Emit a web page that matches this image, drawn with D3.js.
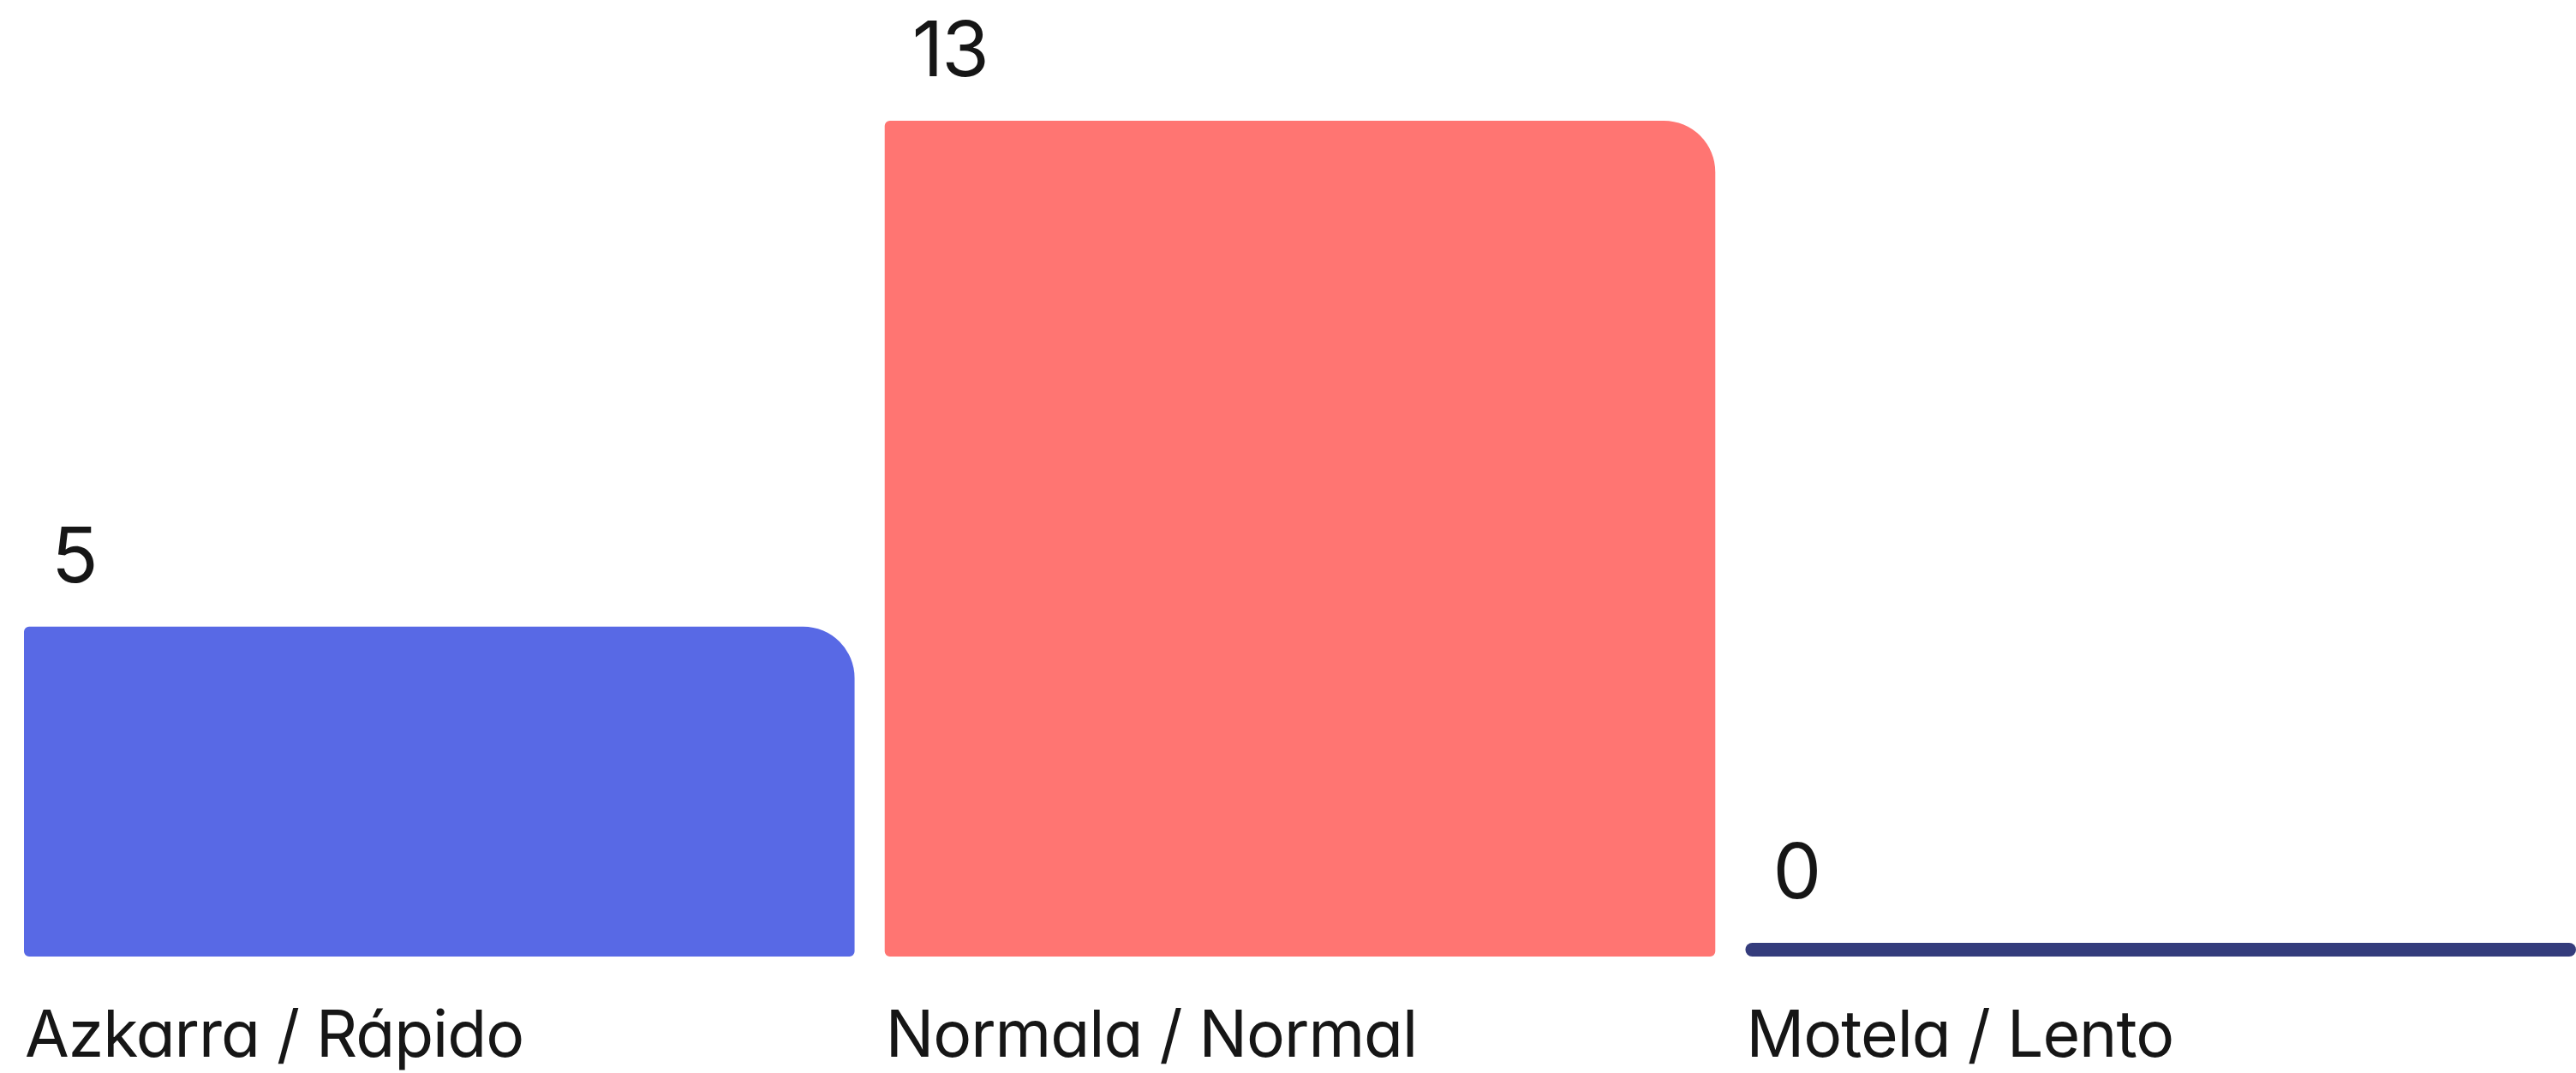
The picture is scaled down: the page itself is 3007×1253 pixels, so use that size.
<!DOCTYPE html>
<html>
<head>
<meta charset="utf-8">
<script src="https://cdn.jsdelivr.net/npm/d3@7"></script>
<style>
    html, body { margin: 0; padding: 0; background: #fff; }
    svg { display: block; }
    text { font-family: Inter, "Noto Sans", sans-serif; font-feature-settings: "cv11"; fill: #161616; }
</style>
</head>
<body>
<svg id="chart"></svg>
<script>
const categories = ['Azkarra / Rápido', 'Normala / Normal', 'Motela / Lento']
const values = [5, 13, 0]
const barColors = ['#5869E5', '#FF7572', '#343C7C']

const width = 3007
const height = 1253
const baseY = 1101
const stub = 16          // bars run a little below the zero line
const bigRadius = 60
const smallRadius = 6

const svg = d3.select('#chart').attr('width', width).attr('height', height)

const x = d3.scaleBand().domain(categories).range([28, width]).paddingInner(0.035)
const y = d3.scaleLinear().domain([0, 13]).range([baseY, 141])

// rect with its own radius for each corner: tl, tr, br, bl
const barPath = (x0, y0, w, h, r) => {
    const c = r.map(v => Math.min(v, h / 2, w / 2))
    const p = d3.path()
    p.moveTo(x0 + c[0], y0)
    p.lineTo(x0 + w - c[1], y0)
    p.arcTo(x0 + w, y0, x0 + w, y0 + c[1], c[1])
    p.lineTo(x0 + w, y0 + h - c[2])
    p.arcTo(x0 + w, y0 + h, x0 + w - c[2], y0 + h, c[2])
    p.lineTo(x0 + c[3], y0 + h)
    p.arcTo(x0, y0 + h, x0, y0 + h - c[3], c[3])
    p.lineTo(x0, y0 + c[0])
    p.arcTo(x0, y0, x0 + c[0], y0, c[0])
    p.closePath()
    return p.toString()
}

const rows = categories.map((c, i) => ({ cat: c, value: values[i], color: barColors[i] }))

svg.append('g')
    .selectAll('path')
    .data(rows)
    .join('path')
    .attr('fill', d => d.color)
    .attr('d', d => {
        const top = y(d.value)
        const h = y(0) + stub - top
        const r = d.value === 0 ? [h / 2, h / 2, h / 2, h / 2] : [smallRadius, bigRadius, smallRadius, smallRadius]
        return barPath(x(d.cat), top, x.bandwidth(), h, r)
    })

// value labels
svg.append('g')
    .selectAll('text')
    .data(rows)
    .join('text')
    .attr('x', d => x(d.cat) + 32)
    .attr('y', d => y(d.value) - 52)
    .attr('font-size', 90)
    .attr('letter-spacing', -2)
    .text(d => d.value)

// category labels
svg.append('g')
    .selectAll('text')
    .data(rows)
    .join('text')
    .attr('x', d => x(d.cat) + 1)
    .attr('y', 1234)
    .attr('font-size', 75)
    .attr('letter-spacing', -1)
    .text(d => d.cat)
</script>
</body>
</html>
